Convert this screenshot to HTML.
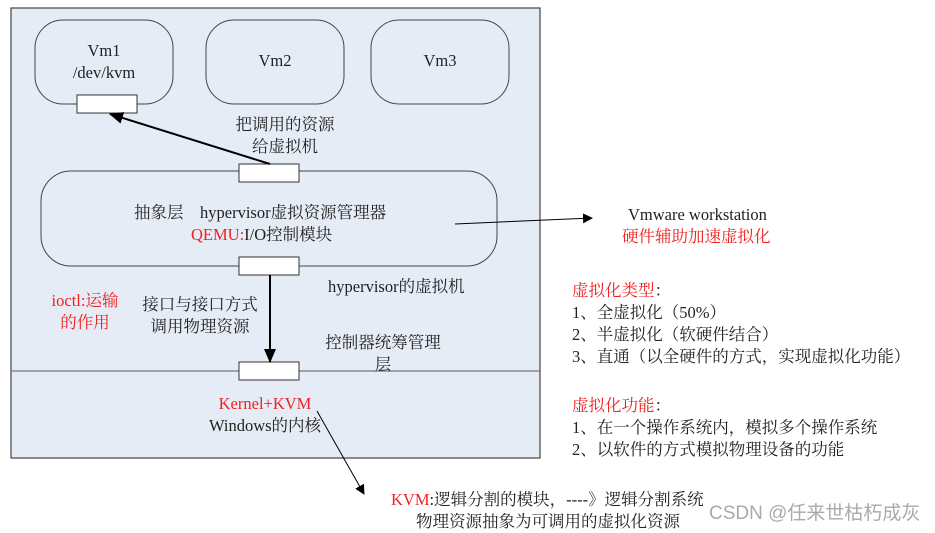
<!DOCTYPE html>
<html><head><meta charset="utf-8"><style>
body{margin:0;background:#fff;width:935px;height:533px;overflow:hidden;position:relative;font-family:"Liberation Serif","Noto Serif CJK SC","Noto Sans CJK SC",serif;color:#222}
.t{position:absolute;font-size:16.5px;line-height:22px;white-space:nowrap}
.c{text-align:center}
.r{color:#f02020}
</style></head><body>
<svg width="935" height="533" style="position:absolute;left:0;top:0">
<defs><marker id="a" markerWidth="10" markerHeight="10" refX="9" refY="5" orient="auto" markerUnits="userSpaceOnUse"><path d="M0,0L10,5L0,10z" fill="#000"/></marker>
<marker id="b" markerWidth="14" markerHeight="14" refX="13" refY="7" orient="auto" markerUnits="userSpaceOnUse"><path d="M0,1L14,7L0,13z" fill="#000"/></marker></defs>
<rect x="11" y="8" width="529" height="450" fill="#e6ecf6" stroke="#444" stroke-width="1.2"/>
<line x1="11" y1="371" x2="540" y2="371" stroke="#777" stroke-width="1.2"/>
<rect x="35" y="20" width="138" height="84" rx="28" fill="none" stroke="#444"/>
<rect x="206" y="20" width="138" height="84" rx="28" fill="none" stroke="#444"/>
<rect x="371" y="20" width="138" height="84" rx="28" fill="none" stroke="#444"/>
<rect x="41" y="171" width="456" height="95" rx="30" fill="none" stroke="#444"/>
<rect x="77" y="95" width="60" height="18" fill="#fff" stroke="#333"/>
<rect x="239" y="164" width="60" height="18" fill="#fff" stroke="#333"/>
<rect x="239" y="257" width="60" height="18" fill="#fff" stroke="#333"/>
<rect x="239" y="362" width="60" height="18" fill="#fff" stroke="#333"/>
<line x1="270" y1="164" x2="110" y2="114" stroke="#000" stroke-width="2" marker-end="url(#b)"/>
<line x1="270" y1="275" x2="270" y2="362" stroke="#000" stroke-width="2" marker-end="url(#b)"/>
<line x1="455" y1="224" x2="592" y2="218" stroke="#000" stroke-width="1" marker-end="url(#a)"/>
<line x1="317" y1="411" x2="364" y2="494" stroke="#000" stroke-width="1" marker-end="url(#a)"/>
</svg>
<div class="t c" style="left:35px;width:138px;top:40px">Vm1<br>/dev/kvm</div>
<div class="t c" style="left:206px;width:138px;top:50px">Vm2</div>
<div class="t c" style="left:371px;width:138px;top:50px">Vm3</div>
<div class="t c" style="left:200px;width:170px;top:114px">把调用的资源<br>给虚拟机</div>
<div class="t" style="left:134px;top:202px">抽象层　hypervisor虚拟资源管理器</div>
<div class="t" style="left:191px;top:224px"><span class="r">QEMU:</span>I/O控制模块</div>
<div class="t" style="left:328px;top:276px">hypervisor的虚拟机</div>
<div class="t c r" style="left:35px;width:100px;top:290px">ioctl:运输<br>的作用</div>
<div class="t c" style="left:130px;width:140px;top:294px">接口与接口方式<br>调用物理资源</div>
<div class="t c" style="left:313px;width:140px;top:332px">控制器统筹管理<br>层</div>
<div class="t c" style="left:185px;width:160px;top:393px"><span class="r">Kernel+KVM</span><br>Windows的内核</div>
<div class="t" style="left:628px;top:204px">Vmware workstation</div>
<div class="t r" style="left:622px;top:226px">硬件辅助加速虚拟化</div>
<div class="t" style="left:572px;top:280px"><span class="r">虚拟化类型</span>：<br>1、全虚拟化（50%）<br>2、半虚拟化（软硬件结合）<br>3、直通（以全硬件的方式，实现虚拟化功能）</div>
<div class="t" style="left:572px;top:395px"><span class="r">虚拟化功能</span>：<br>1、在一个操作系统内，模拟多个操作系统<br>2、以软件的方式模拟物理设备的功能</div>
<div class="t" style="left:391px;top:489px"><span class="r">KVM</span>:逻辑分割的模块，----》逻辑分割系统</div>
<div class="t" style="left:416px;top:511px">物理资源抽象为可调用的虚拟化资源</div>
<div class="t" style="left:709px;top:503px;font-family:'Liberation Sans','Noto Sans CJK SC',sans-serif;font-size:19px;color:#aaa">CSDN @任来世枯朽成灰</div>
</body></html>
